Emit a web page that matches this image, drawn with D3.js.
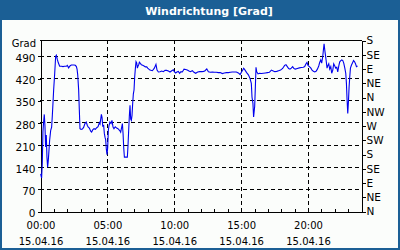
<!DOCTYPE html>
<html>
<head>
<meta charset="utf-8">
<script src="https://cdn.jsdelivr.net/npm/d3@7"></script>
<style>
  body { margin: 0; background: #fff; }
  svg text { font-family: "DejaVu Sans", sans-serif; font-size: 10px; fill: #000; }
</style>
</head>
<body>
<div id="chart"></div>
<script>
// time of day (hours) and wind direction (degrees, unwrapped)
const hours = [
  0.05, 0.12, 0.17, 0.22, 0.27, 0.32, 0.37, 0.42, 0.47, 0.52, 0.57, 0.62, 0.67, 0.72, 0.80, 0.87, 0.92, 0.97,
  1.02, 1.10, 1.17, 1.22, 1.30, 1.37, 1.47, 1.60, 1.72, 1.84, 1.97, 2.04, 2.14, 2.24, 2.34, 2.44, 2.54, 2.64,
  2.72, 2.77, 2.82, 2.89, 2.94, 2.99, 3.07, 3.17, 3.26, 3.36, 3.46, 3.54, 3.61, 3.69, 3.79, 3.86, 3.94, 4.04,
  4.14, 4.24, 4.34, 4.44, 4.49, 4.54, 4.59, 4.64, 4.69, 4.76, 4.81, 4.86, 4.91, 4.96, 5.01, 5.06, 5.11, 5.16,
  5.23, 5.31, 5.38, 5.46, 5.53, 5.63, 5.73, 5.83, 5.96, 6.03, 6.11, 6.16, 6.21, 6.26, 6.31, 6.43, 6.53, 6.58,
  6.63, 6.68, 6.73, 6.78, 6.83, 6.88, 6.93, 6.98, 7.03, 7.08, 7.13, 7.18, 7.23, 7.28, 7.33, 7.38, 7.43, 7.50,
  7.58, 7.68, 7.78, 7.88, 7.98,
  8.05, 8.22, 8.40, 8.55, 8.67, 8.75, 8.85, 8.97, 9.10, 9.22, 9.35, 9.47, 9.60, 9.72, 9.85, 9.97, 10.04, 10.14,
  10.24, 10.34, 10.44, 10.54, 10.64, 10.77, 10.89, 11.01, 11.14, 11.24, 11.39, 11.51, 11.64, 11.79, 11.94,
  12.09, 12.24, 12.34, 12.47, 12.59, 12.74, 12.89, 13.04, 13.18, 13.33, 13.48, 13.63, 13.78, 13.93, 14.08,
  14.23, 14.38, 14.53, 14.68, 14.83, 14.96, 15.08, 15.23, 15.33, 15.45, 15.58, 15.70, 15.80, 15.85, 15.92,
  15.97, 16.05, 16.10, 16.15, 16.20, 16.30, 16.40, 16.55, 16.70, 16.85, 17.00, 17.15, 17.30, 17.40, 17.55,
  17.70, 17.84, 17.99, 18.14, 18.29, 18.39, 18.49, 18.59, 18.69, 18.79, 18.89, 18.99, 19.09, 19.24, 19.39,
  19.54, 19.69, 19.79, 19.89, 19.96, 20.04, 20.14, 20.24, 20.34, 20.44, 20.54, 20.64, 20.74, 20.84, 20.91,
  20.99, 21.06, 21.14, 21.19, 21.24, 21.29, 21.34, 21.39, 21.46, 21.51, 21.59, 21.66, 21.74, 21.81, 21.89,
  21.96, 22.04, 22.11, 22.19, 22.26, 22.34, 22.41, 22.49, 22.56, 22.64, 22.71, 22.79, 22.86, 22.91, 22.96,
  23.01, 23.06, 23.11, 23.16, 23.21, 23.29, 23.36, 23.44, 23.51, 23.59, 23.66, 23.74
];
const degrees = [
  117, 104, 150, 250, 281, 305, 270, 202, 240, 170, 138, 160, 191, 223, 255, 265, 300, 340,
  382, 435, 488, 492, 478, 468, 457, 457, 456, 457, 457, 460, 452, 458, 461, 461, 461, 460,
  456, 448, 430, 382, 320, 260, 258, 259, 264, 276, 281, 270, 265, 262, 252, 249, 256, 260,
  258, 263, 266, 279, 275, 290, 305, 295, 268, 270, 245, 233, 225, 195, 178, 200, 255, 270,
  281, 276, 286, 265, 260, 266, 262, 260, 254, 249, 265, 276, 245, 200, 170, 170, 170, 207,
  255, 300, 334, 290, 286, 302, 340, 370, 382, 424, 450, 472, 468, 451, 458, 462, 470, 466,
  462, 460, 458, 455, 455,
  451, 445, 443, 451, 463, 445, 439, 440, 442, 440, 444, 444, 442, 439, 443, 446, 440, 436,
  439, 441, 435, 440, 439, 448, 447, 445, 442, 440, 443, 438, 435, 439, 440,
  440, 441, 443, 449, 440, 438, 439, 438, 438, 437, 437, 434, 436, 437, 437,
  438, 439, 439, 439, 436, 431, 440, 451, 445, 437, 430, 419, 403, 360, 340,
  297, 330, 390, 454, 440, 433, 435, 434, 435, 436, 437, 438, 445, 443, 440,
  441, 443, 445, 450, 460, 462, 456, 450, 448, 451, 456, 450, 448, 450, 452,
  453, 454, 456, 465, 469, 460, 456, 452, 445, 441, 439, 441, 448, 458, 469,
  477, 467, 488, 509, 528, 509, 493, 477, 451, 458, 465, 448, 456, 435, 445,
  465, 458, 451, 454, 439, 458, 471, 475, 477, 475, 467, 451, 435, 403, 350,
  308, 345, 392, 424, 451, 461, 467, 475, 472, 465, 456, 458
];

const leftTicks = [0, 70, 140, 210, 280, 350, 420, 490];
const rightTicks = [0, 45, 90, 135, 180, 225, 270, 315, 360, 405, 450, 495, 540];
const rightLabels = ["N", "NE", "E", "SE", "S", "SW", "W", "NW", "N", "NE", "E", "SE", "S"];
const hourTicks = d3.range(0, 25);
const labelHours = [0, 5, 10, 15, 20];
const timeLabels = ["00:00", "05:00", "10:00", "15:00", "20:00"];
const dateLabel = "15.04.16";

const W = 400, H = 250;
const plotL = 40, plotR = 361, plotT = 40, plotB = 211;

const svg = d3.select("#chart").append("svg")
  .attr("width", W).attr("height", H);

// frame + title bar
svg.append("rect").attr("width", W).attr("height", H).attr("fill", "#1b5f95");
svg.append("rect").attr("x", 2).attr("y", 20).attr("width", W - 4).attr("height", H - 22)
  .attr("fill", "#fbfdfb");
svg.append("text").attr("x", 209).attr("y", 14.5).attr("text-anchor", "middle")
  .style("font-weight", "bold").style("fill", "#fff").style("font-size", "11px")
  .text("Windrichtung [Grad]");

const x = d3.scaleLinear().domain([0, 24]).range([plotL, plotR]);
const y = d3.scaleLinear().domain([0, 540]).range([plotB, plotT]);

// dashed grid
const grid = svg.append("g").attr("stroke", "#000").attr("stroke-dasharray", "4,3")
  .attr("shape-rendering", "crispEdges");
grid.selectAll(".h").data(leftTicks.slice(1)).enter().append("line")
  .attr("x1", plotL).attr("x2", plotR)
  .attr("y1", d => Math.round(y(d)) + 0.5).attr("y2", d => Math.round(y(d)) + 0.5);
grid.selectAll(".v").data(labelHours.slice(1)).enter().append("line")
  .attr("y1", plotT).attr("y2", plotB)
  .attr("x1", d => Math.round(x(d)) + 0.5).attr("x2", d => Math.round(x(d)) + 0.5);

// top border
svg.append("line").attr("x1", plotL).attr("x2", plotR + 1).attr("y1", plotT + 0.5).attr("y2", plotT + 0.5)
  .attr("stroke", "#000").attr("shape-rendering", "crispEdges");

// left axis
const yAxisG = svg.append("g").attr("transform", `translate(${plotL + 0.5},0.5)`)
  .call(d3.axisLeft(y).tickValues(leftTicks).tickSize(3).tickSizeOuter(0).tickPadding(2));
yAxisG.selectAll(".tick text").attr("dy", "0.5em");
svg.append("text").attr("x", 36).attr("y", 47).attr("text-anchor", "end").text("Grad");

// right axis
svg.append("g").attr("transform", `translate(${plotR + 0.5},0.5)`)
  .call(d3.axisRight(y).tickValues(rightTicks).tickSize(4).tickSizeOuter(0).tickPadding(1)
    .tickFormat((d, i) => rightLabels[i]));

// bottom axis, hourly ticks pointing inward
svg.append("g").attr("transform", `translate(0.5,${plotB + 0.5})`)
  .call(d3.axisBottom(x).tickValues(hourTicks).tickSize(-3).tickSizeOuter(0).tickFormat(""));

svg.selectAll(".domain, .tick line").attr("stroke", "#000").attr("shape-rendering", "crispEdges");
svg.selectAll(".tick text").style("font-size", "10.5px");

const xl = svg.append("g");
xl.selectAll(".t").data(labelHours).enter().append("text")
  .attr("x", d => x(d) + 1).attr("y", 229).attr("text-anchor", "middle")
  .text((d, i) => timeLabels[i]);
xl.selectAll(".d").data(labelHours).enter().append("text")
  .attr("x", d => x(d) + 1).attr("y", 245).attr("text-anchor", "middle")
  .text(dateLabel);

// wind direction line
const pts = hours.map((h, i) => [h, degrees[i]]);
svg.append("path").datum(pts)
  .attr("fill", "none").attr("stroke", "#0000ee").attr("stroke-width", 1.1)
  .attr("d", d3.line().x(d => x(d[0])).y(d => y(d[1])));
</script>
</body>
</html>
